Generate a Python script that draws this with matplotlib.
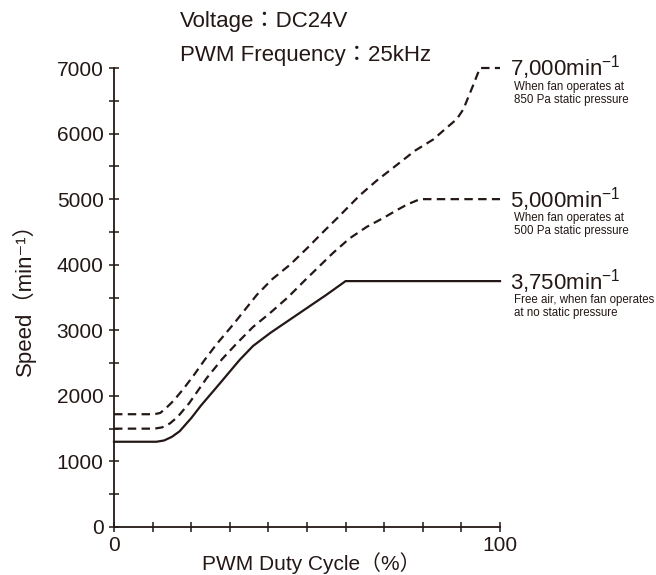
import numpy as np
import matplotlib
matplotlib.use("Agg")
import matplotlib.pyplot as plt

plt.rcParams['font.family'] = ['Liberation Sans', 'DejaVu Sans', 'Noto Sans CJK JP']

# duty cycle (%) / speed (min-1)
duty_free = [0, 11, 13, 15, 17, 20, 22.5, 27.5, 32.5, 36, 40.5, 45, 50.5, 55, 60, 100]
speed_free = [1300, 1300, 1320, 1375, 1460, 1660, 1850, 2195, 2545, 2760, 2960, 3140, 3360, 3540, 3750, 3750]

duty_500 = [0, 10.5, 12.5, 14.5, 16.5, 19.5, 24, 28, 31.8, 36, 40.4, 45, 49.5, 56.7, 61, 65.5, 70, 73.2, 76, 79.3, 100]
speed_500 = [1500, 1500, 1520, 1580, 1680, 1890, 2270, 2560, 2800, 3050, 3262, 3500, 3765, 4177, 4400, 4578, 4720, 4830, 4920, 5000, 5000]

duty_850 = [0, 10.5, 12, 13.6, 15.5, 17.9, 20.5, 23.5, 26.6, 30.9, 37, 41, 45.6, 50, 54.2, 58, 63.7, 68, 74.1, 78, 82.7, 86, 88.8, 90.5, 93, 94.8, 100]
speed_850 = [1720, 1720, 1740, 1820, 1930, 2100, 2300, 2550, 2790, 3090, 3540, 3780, 4000, 4250, 4500, 4720, 5060, 5280, 5560, 5740, 5910, 6080, 6220, 6370, 6730, 7000, 7000]

end_labels = ["7,000min$^{\\mathregular{-1}}$", "5,000min$^{\\mathregular{-1}}$", "3,750min$^{\\mathregular{-1}}$"]
end_levels = [7000, 5000, 3750]
end_notes = ["When fan operates at\n850 Pa static pressure",
             "When fan operates at\n500 Pa static pressure",
             "Free air, when fan operates\nat no static pressure"]

ink = '#231815'

fig = plt.figure(figsize=(6.56, 5.75), dpi=100)
ax = fig.add_axes([114/656, 1 - 527/575, 386/656, 459/575])

ax.plot(duty_850, speed_850, color=ink, lw=1.6, dashes=(3.8, 2.4), clip_on=False)
ax.plot(duty_500, speed_500, color=ink, lw=1.6, dashes=(3.8, 2.4), clip_on=False)
ax.plot(duty_free, speed_free, color=ink, lw=1.6, clip_on=False)

ax.set_xlim(0, 100)
ax.set_ylim(0, 7000)
for s in ['top', 'right']:
    ax.spines[s].set_visible(False)
for s in ['left', 'bottom']:
    ax.spines[s].set_color(ink)
    ax.spines[s].set_linewidth(1.3)

ax.set_xticks(np.arange(0, 101, 10))
ax.set_xticklabels(['0'] + [''] * 9 + ['100'])
ax.set_yticks(np.arange(0, 7001, 500))
ax.set_yticklabels([str(v) if v % 1000 == 0 else '' for v in range(0, 7001, 500)])
ax.tick_params(direction='inout', length=7, width=1.1, color=ink, labelcolor=ink, labelsize=15, pad=4)
ax.tick_params(axis='x', pad=3)

for lab, lev, note in zip(end_labels, end_levels, end_notes):
    ax.text(102.6, lev, lab, fontsize=16, color=ink, va='center', ha='left', clip_on=False)
    ax.annotate(note, xy=(102.6, lev), xytext=(3, -9.5), textcoords='offset points',
                fontsize=8.3, color=ink, va='top', ha='left', linespacing=1.1,
                annotation_clip=False)

fig.text(180/656, 1 - 21/575, "Voltage：DC24V", fontsize=16, color=ink, va='center', ha='left')
fig.text(180/656, 1 - 55/575, "PWM Frequency：25kHz", fontsize=16, color=ink, va='center', ha='left')

fig.text(311/656, 1 - 563/575, "PWM Duty Cycle（%）", fontsize=15, color=ink, va='center', ha='center')
fig.text(24/656, 1 - 294/575, "Speed（min⁻¹）", fontsize=16, color=ink, va='center', ha='center', rotation=90)

fig.savefig("out.png", dpi=100)
